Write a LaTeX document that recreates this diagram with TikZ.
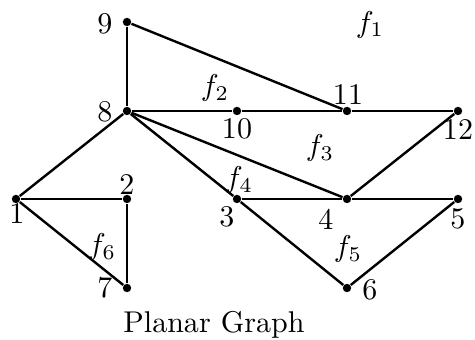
\documentclass[tikz,border=0pt]{standalone}
\begin{document}
\begin{tikzpicture}[x=0.333pt,y=-0.333pt,
  vtx/.style={circle,fill=black,inner sep=0pt,minimum size=2.8pt},
  lbl/.style={inner sep=0pt,font=\normalsize},
  edge/.style={line width=0.8pt}]
\useasboundingbox (0,0) rectangle (475,340);
\node[vtx] (v9) at (127,22) {};
\node[vtx] (v8) at (127,111) {};
\node[vtx] (v10) at (237,111) {};
\node[vtx] (v11) at (347,111) {};
\node[vtx] (v12) at (458,111) {};
\node[vtx] (v1) at (16,199) {};
\node[vtx] (v2) at (127,199) {};
\node[vtx] (v3) at (237,199) {};
\node[vtx] (v4) at (347,199) {};
\node[vtx] (v5) at (458,199) {};
\node[vtx] (v6) at (347,288) {};
\node[vtx] (v7) at (127,288) {};
\draw[edge] (v9) -- (v8);
\draw[edge] (v9) -- (v11);
\draw[edge] (v8) -- (v10);
\draw[edge] (v10) -- (v11);
\draw[edge] (v11) -- (v12);
\draw[edge] (v8) -- (v1);
\draw[edge] (v8) -- (v3);
\draw[edge] (v8) -- (v4);
\draw[edge] (v1) -- (v2);
\draw[edge] (v2) -- (v7);
\draw[edge] (v1) -- (v7);
\draw[edge] (v3) -- (v4);
\draw[edge] (v4) -- (v5);
\draw[edge] (v4) -- (v12);
\draw[edge] (v3) -- (v6);
\draw[edge] (v6) -- (v5);
\node[lbl] (l9) at (105,24) {9};
\node[lbl] (l8) at (105,112) {8};
\node[lbl] (l10) at (237,129) {10};
\node[lbl] (l11) at (348,95) {11};
\node[lbl] (l12) at (458,130) {12};
\node[lbl] (l1) at (17,214) {1};
\node[lbl] (l2) at (127,185) {2};
\node[lbl] (l3) at (227,217) {3};
\node[lbl] (l4) at (326,219) {4};
\node[lbl] (l5) at (458,219) {5};
\node[lbl] (l6) at (370,290) {6};
\node[lbl] (l7) at (105,288) {7};
\node[lbl] (f1) at (370,25) {$f_1$};
\node[lbl] (f2) at (215,88) {$f_2$};
\node[lbl] (f3) at (320,148) {$f_3$};
\node[lbl] (f4) at (239,180) {$f_4$};
\node[lbl] (f5) at (348,249) {$f_5$};
\node[lbl] (f6) at (102,247) {$f_6$};
\node[lbl,anchor=base] (cap) at (214,333) {Planar Graph};
\end{tikzpicture}
\end{document}
